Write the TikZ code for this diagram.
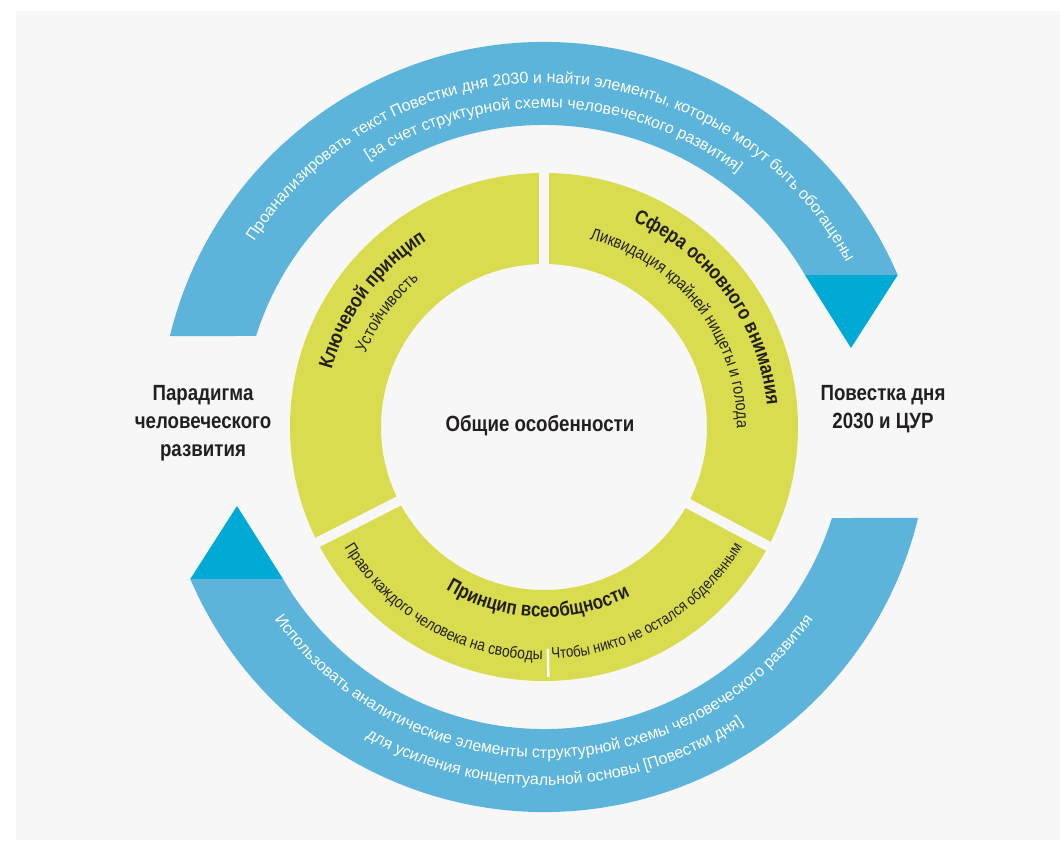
\documentclass[tikz,border=0pt]{standalone}
\usepackage{fontspec}
\setmainfont{Liberation Sans}[FakeStretch=0.85]
\newfontfamily\widefont{Liberation Sans}
\usetikzlibrary{decorations.text}

\definecolor{bggray}{HTML}{F7F7F7}
\definecolor{arcblue}{HTML}{5CB4DB}
\definecolor{tipblue}{HTML}{00AAD4}
\definecolor{ringyellow}{HTML}{D9DC4E}
\definecolor{inkdark}{HTML}{231F20}

\newcommand{\bluefont}{\widefont\fontsize{16}{19}\selectfont}
\newcommand{\headfont}{\bfseries\fontsize{20}{24}\selectfont}
\newcommand{\subfont}{\fontsize{17}{20}\selectfont}
\newcommand{\lowfont}{\fontsize{16.3}{20}\selectfont}

\tikzset{
  sidetext/.style={font=\bfseries\fontsize{22}{28}\selectfont, text=inkdark, align=center},
  ontext/.style={decorate, decoration={text along path, text align=center, text color=#1}},
}

\begin{document}
\begin{tikzpicture}[x=1pt,y=1pt]

    %page and grey panel
    \fill[white] (-544,-413) rectangle (516,427);
    \fill[bggray] (-528,-413) rectangle (516,416);

    %upper blue arc with its tip
    \fill[arcblue] (166.33:385) arc[start angle=166.33, end angle=23.25, radius=385pt]
        -- (30.22:302) arc[start angle=30.22, end angle=162.46, radius=302pt] -- cycle;
    \fill[tipblue] (23.25:385) -- (30.22:302) -- (307,79) -- cycle;

    %lower blue arc with its tip
    \fill[arcblue] (203.25:385) arc[start angle=203.25, end angle=346.33, radius=385pt]
        -- (342.46:302) arc[start angle=342.46, end angle=210.22, radius=302pt] -- cycle;
    \fill[tipblue] (203.25:385) -- (210.22:302) -- (-307,-79) -- cycle;

    %the yellow ring and its three cuts
    \fill[ringyellow, even odd rule] (0,0) circle[radius=254pt] (0,0) circle[radius=163pt];
    \draw[bggray, line width=10pt] (90:158) -- (90:260);
    \draw[bggray, line width=10pt] (207:158) -- (207:260);
    \draw[bggray, line width=10pt] (332:158) -- (332:260);
    \draw[white, line width=2.5pt] (271:222) -- (271:250);

    %texts on the blue arcs
    \path[ontext=white, decoration={text={|\bluefont|Проанализировать текст Повестки дня 2030 и найти элементы, которые могут быть обогащены}}]
        (170:344) arc[start angle=170, end angle=6, radius=344pt];
    \path[ontext=white, decoration={text={|\bluefont|[за счет структурной схемы человеческого развития]}}]
        (170:319) arc[start angle=170, end angle=6, radius=319pt];
    \path[ontext=white, decoration={text={|\bluefont|Использовать аналитические элементы структурной схемы человеческого развития}}]
        (190:331) arc[start angle=190, end angle=350, radius=331pt];
    \path[ontext=white, decoration={text={|\bluefont|для усиления концептуальной основы [Повестки дня]}}]
        (192:358) arc[start angle=192, end angle=352, radius=358pt];

    %texts on the yellow ring
    \path[ontext=inkdark, decoration={text={|\headfont|Ключевой принцип}}]
        (203.5:220) arc[start angle=203.5, end angle=83.5, radius=220pt];
    \path[ontext=inkdark, decoration={text={|\subfont|Устойчивость}}]
        (204:193) arc[start angle=204, end angle=84, radius=193pt];
    \path[ontext=inkdark, decoration={text={|\headfont|Сфера основного внимания}}]
        (96:224) arc[start angle=96, end angle=-24, radius=224pt];
    \path[ontext=inkdark, decoration={text={|\subfont|Ликвидация крайней нищеты и голода}}]
        (98:193) arc[start angle=98, end angle=-22, radius=193pt];
    \path[ontext=inkdark, decoration={text={|\headfont|Принцип всеобщности}}]
        (208:190) arc[start angle=208, end angle=328, radius=190pt];
    \path[ontext=inkdark, decoration={text align=right, text={|\lowfont|Право каждого человека на свободы}}]
        (190:233) arc[start angle=190, end angle=269.6, radius=233pt];
    \path[ontext=inkdark, decoration={text align=left, text={|\fontsize{15.6}{20}\selectfont|Чтобы никто не остался обделенным}}]
        (271.9:232) arc[start angle=271.9, end angle=350, radius=232pt];

    %labels
    \node[sidetext] (paradigm) at (-341,4) {Парадигма\\человеческого\\развития};
    \node[sidetext] (agenda) at (339,18) {Повестка дня\\2030 и ЦУР};
    \node[sidetext, anchor=base] (common) at (-4,-5) {Общие особенности};

\end{tikzpicture}
\end{document}
